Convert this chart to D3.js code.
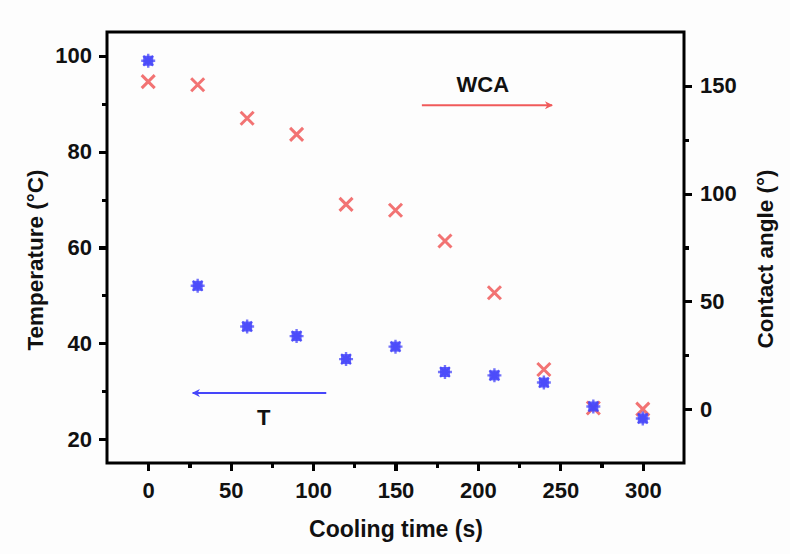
<!DOCTYPE html>
<html>
<head>
<meta charset="utf-8">
<script src="https://cdn.jsdelivr.net/npm/d3@7"></script>
<style>
  html, body { margin: 0; padding: 0; background: #fdfdfd; }
  svg { display: block; }
  text { font-family: "Liberation Sans", Arial, sans-serif; font-weight: bold; fill: #111; }
</style>
</head>
<body>
<script>
const coolingTime = [0, 30, 60, 90, 120, 150, 180, 210, 240, 270, 300];
const temperature = [99, 52, 43.5, 41.5, 36.7, 39.3, 34, 33.3, 31.8, 26.8, 24.3];
const contactAngle = [152, 150.5, 135, 127.5, 95, 92.3, 78, 54, 18.4, 0.5, 0];
const xTicks = [0, 50, 100, 150, 200, 250, 300];
const xMinorTicks = [25, 75, 125, 175, 225, 275];
const yLeftTicks = [20, 40, 60, 80, 100];
const yLeftMinorTicks = [30, 50, 70, 90];
const yRightTicks = [0, 50, 100, 150];
const yRightMinorTicks = [25, 75, 125];

const W = 790, H = 554;
const m = { left: 107, right: 106, top: 32, bottom: 91 };
const iw = W - m.left - m.right, ih = H - m.top - m.bottom;

const svg = d3.select("body").append("svg").attr("width", W).attr("height", H);
const g = svg.append("g").attr("transform", `translate(${m.left},${m.top})`);

const x = d3.scaleLinear().domain([-25, 325]).range([0, iw]);
const yL = d3.scaleLinear().domain([15, 105]).range([ih, 0]);
const yR = d3.scaleLinear().domain([-25, 175]).range([ih, 0]);

const red = "#f05a5a", blue = "#4646fa";

const axStyle = sel => {
  sel.attr("stroke", "#000");
  sel.select(".domain").remove();
  sel.selectAll(".tick line").attr("stroke", "#000").attr("stroke-width", 3.2)
    .attr("shape-rendering", "crispEdges").style("stroke", "#000");
  sel.selectAll(".tick text").style("font-size", "22px").attr("fill", "#111").attr("stroke", "none");
};

// x axis
g.append("g").attr("transform", `translate(0,${ih})`)
  .call(d3.axisBottom(x).tickValues(xTicks).tickSize(8).tickPadding(11).tickFormat(d3.format("d")))
  .call(axStyle);
g.append("g").attr("transform", `translate(0,${ih})`)
  .call(d3.axisBottom(x).tickValues(xMinorTicks).tickSize(5).tickFormat(""))
  .call(axStyle);

// left y axis
g.append("g")
  .call(d3.axisLeft(yL).tickValues(yLeftTicks).tickSize(8).tickPadding(7).tickFormat(d3.format("d")))
  .call(axStyle);
g.append("g")
  .call(d3.axisLeft(yL).tickValues(yLeftMinorTicks).tickSize(5).tickFormat(""))
  .call(axStyle);

// right y axis
g.append("g").attr("transform", `translate(${iw},0)`)
  .call(d3.axisRight(yR).tickValues(yRightTicks).tickSize(8).tickPadding(8).tickFormat(d3.format("d")))
  .call(axStyle);
g.append("g").attr("transform", `translate(${iw},0)`)
  .call(d3.axisRight(yR).tickValues(yRightMinorTicks).tickSize(5).tickFormat(""))
  .call(axStyle);

// frame
g.append("rect").attr("x", 0).attr("y", 0).attr("width", iw).attr("height", ih)
  .attr("fill", "none").attr("stroke", "#000").attr("stroke-width", 3);

// WCA markers (X)
const xs = 6.5;
g.append("g").selectAll("path").data(coolingTime.map((t, i) => [t, contactAngle[i]])).join("path")
  .attr("transform", d => `translate(${x(d[0])},${yR(d[1])})`)
  .attr("d", `M${-xs},${-xs}L${xs},${xs}M${-xs},${xs}L${xs},${-xs}`)
  .attr("stroke", red).attr("stroke-width", 3).attr("stroke-opacity", 0.85).attr("fill", "none");

// T markers (asterisk/star)
const s = 7;
const star = [0, 45, 90, 135].map(a => {
  const r = a * Math.PI / 180;
  return `M${-s * Math.cos(r)},${-s * Math.sin(r)}L${s * Math.cos(r)},${s * Math.sin(r)}`;
}).join("");
const tg = g.append("g").selectAll("g").data(coolingTime.map((t, i) => [t, temperature[i]])).join("g")
  .attr("transform", d => `translate(${x(d[0])},${yL(d[1])})`);
tg.append("rect").attr("x", -5).attr("y", -5).attr("width", 10).attr("height", 10).attr("fill", blue).attr("opacity", 0.85);
tg.append("path").attr("d", star).attr("stroke", blue).attr("stroke-width", 2.4).attr("stroke-opacity", 0.75);

// arrows
const defs = svg.append("defs");
function marker(id, color) {
  defs.append("marker").attr("id", id).attr("viewBox", "0 0 10 10").attr("refX", 9).attr("refY", 5)
    .attr("markerWidth", 11).attr("markerHeight", 8).attr("markerUnits", "userSpaceOnUse").attr("orient", "auto")
    .append("path").attr("d", "M0,0L10,5L0,10L3,5Z").attr("fill", color);
}
marker("ar", red); marker("ab", blue);

g.append("line").attr("x1", x(166)).attr("x2", x(245)).attr("y1", yR(141)).attr("y2", yR(141))
  .attr("stroke", red).attr("stroke-width", 2).attr("marker-end", "url(#ar)");
g.append("text").attr("x", x(203)).attr("y", yR(147.2)).attr("text-anchor", "middle")
  .style("font-size", "22px").text("WCA");

g.append("line").attr("x1", x(108)).attr("x2", x(27)).attr("y1", yL(29.6)).attr("y2", yL(29.6))
  .attr("stroke", blue).attr("stroke-width", 2).attr("marker-end", "url(#ab)");
g.append("text").attr("x", x(70)).attr("y", yL(23)).attr("text-anchor", "middle")
  .style("font-size", "22px").text("T");

// axis titles
svg.append("text").attr("x", 396).attr("y", 537).attr("text-anchor", "middle")
  .style("font-size", "23px").text("Cooling time (s)");
svg.append("text").attr("transform", `translate(43,260) rotate(-90)`).attr("text-anchor", "middle")
  .style("font-size", "22.5px").text("Temperature (°C)");
svg.append("text").attr("transform", `translate(773,259) rotate(-90)`).attr("text-anchor", "middle")
  .style("font-size", "22.5px").text("Contact angle (°)");
</script>
</body>
</html>
